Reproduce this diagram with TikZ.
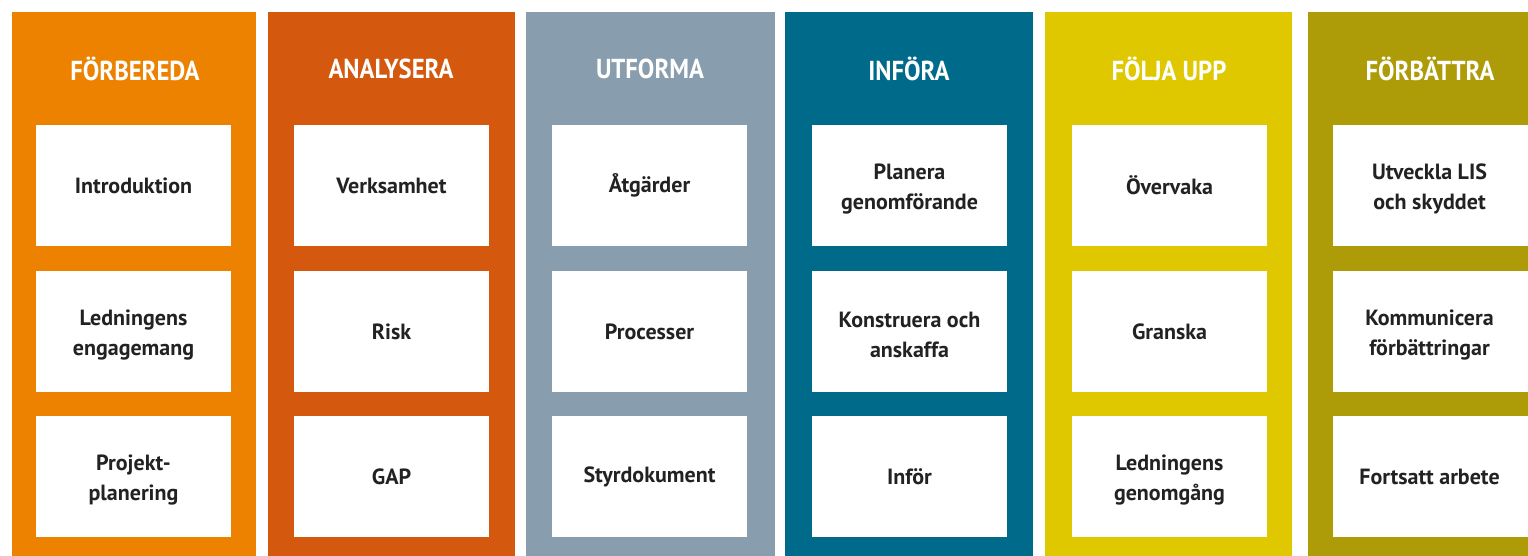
\documentclass[tikz,border=0pt]{standalone}
\usepackage{fontspec}
\setmainfont{PT Sans}
\newfontfamily\titlefont{PT Sans}[FakeStretch=0.9]
\definecolor{cA}{HTML}{EC8200}
\definecolor{cB}{HTML}{D4590F}
\definecolor{cC}{HTML}{889DAD}
\definecolor{cD}{HTML}{006A8A}
\definecolor{cE}{HTML}{DFC800}
\definecolor{cF}{HTML}{AE9B08}
\definecolor{txt}{HTML}{222222}
\tikzset{
  colbox/.style={rectangle, anchor=north west, minimum width=247pt, minimum height=560pt, inner sep=0pt, outer sep=0pt},
  title/.style={text=white, font=\titlefont\fontsize{27.4}{30}\selectfont\bfseries, anchor=center},
  item/.style={rectangle, fill=white, anchor=north west, minimum width=195pt, minimum height=121pt, inner sep=0pt, outer sep=0pt},
  itemtext/.style={text=txt, font=\fontsize{22}{30}\selectfont\bfseries, align=center, anchor=center},
  twoline/.style={itemtext, yshift=-3.5pt}
}
\begin{document}
\begin{tikzpicture}[x=1pt,y=-1pt]
\clip (0,0) rectangle (1528,555);
\fill[white] (0,0) rectangle (1528,555);
% columns
\node[colbox, fill=cA, minimum width=244pt] (c1) at (12,12) {};
\node[colbox, fill=cB] (c2) at (268,12) {};
\node[colbox, fill=cC, minimum width=249pt] (c3) at (526,12) {};
\node[colbox, fill=cD, minimum width=248pt] (c4) at (785,12) {};
\node[colbox, fill=cE] (c5) at (1045,12) {};
\node[colbox, fill=cF] (c6) at (1308,12) {};
% titles
\node[title] (t1) at (135,69) {FÖRBEREDA};
\node[title] (t2) at (391,69) {ANALYSERA};
\node[title] (t3) at (650,69) {UTFORMA};
\node[title] (t4) at (909,69) {INFÖRA};
\node[title] (t5) at (1169,69) {FÖLJA UPP};
\node[title] (t6) at (1430,69) {FÖRBÄTTRA};
% boxes
\foreach \c/\x in {1/36,2/294,3/552,4/812,5/1072,6/1333}{
  \node[item] (b\c a) at (\x,125) {};
  \node[item] (b\c b) at (\x,271) {};
  \node[item] (b\c c) at (\x,416) {};
}
\node[itemtext] at (b1a) {Introduktion};
\node[twoline] at (b1b) {Ledningens\\engagemang};
\node[twoline] at (b1c) {Projekt-\\planering};
\node[itemtext] at (b2a) {Verksamhet};
\node[itemtext] at (b2b) {Risk};
\node[itemtext] at (b2c) {GAP};
\node[itemtext] at (b3a) {Åtgärder};
\node[itemtext] at (b3b) {Processer};
\node[itemtext] at (b3c) {Styrdokument};
\node[twoline] at (b4a) {Planera\\genomförande};
\node[twoline] at (b4b) {Konstruera och\\anskaffa};
\node[itemtext] at (b4c) {Inför};
\node[itemtext] at (b5a) {Övervaka};
\node[itemtext] at (b5b) {Granska};
\node[twoline] at (b5c) {Ledningens\\genomgång};
\node[twoline] at ([xshift=-1pt]b6a) {Utveckla LIS\\och skyddet};
\node[twoline] at ([xshift=-1pt]b6b) {Kommunicera\\förbättringar};
\node[itemtext] at ([xshift=-1pt]b6c) {Fortsatt arbete};
\end{tikzpicture}
\end{document}
